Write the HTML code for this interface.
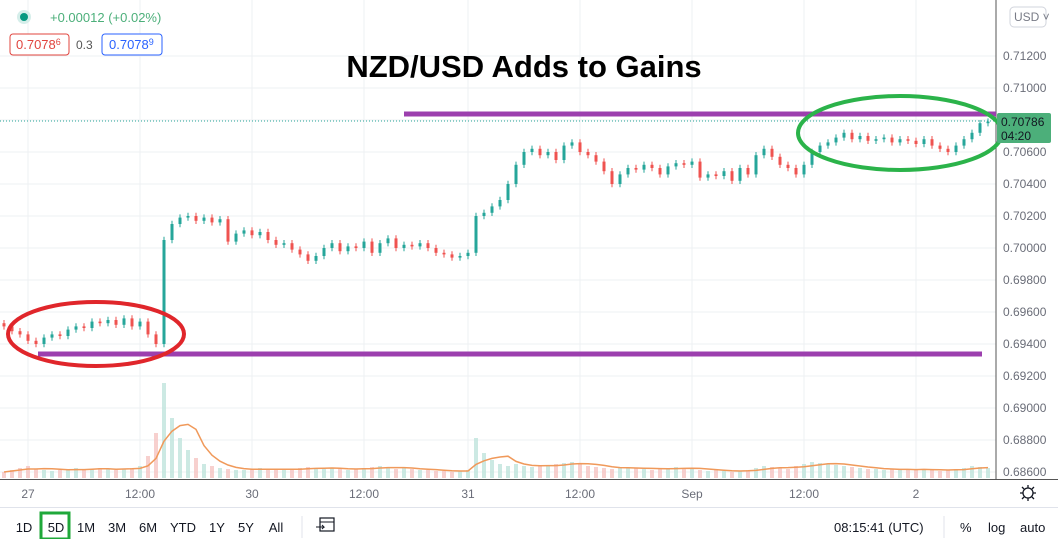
<!DOCTYPE html>
<html><head><meta charset="utf-8">
<style>
body{margin:0;width:1058px;height:539px;overflow:hidden;background:#fff;font-family:"Liberation Sans","DejaVu Sans",sans-serif;}
svg{position:absolute;left:0;top:0}
.t{font-size:12px;fill:#131722}
.b{font-size:13px;fill:#131722}
</style></head><body>
<svg id="c" width="1058" height="539">
<g id="grid"></g>
<g id="vol"></g>
<g id="candles"></g>
<line x1="996" y1="0" x2="996" y2="479" stroke="#555" stroke-width="1"/>
<line x1="0" y1="479.5" x2="1058" y2="479.5" stroke="#555" stroke-width="1"/>
<line x1="0" y1="507.5" x2="1058" y2="507.5" stroke="#e0e3eb"/>
<g id="yaxis"></g>
<g id="xaxis"></g>
<line x1="0" y1="121" x2="996" y2="121" stroke="#26a69a" stroke-dasharray="1,2"/>
<line x1="404" y1="114" x2="996" y2="114" stroke="#9c3fae" stroke-width="5"/>
<line x1="38" y1="354" x2="982" y2="354" stroke="#9c3fae" stroke-width="5"/>
<ellipse cx="96" cy="334" rx="88" ry="32" fill="none" stroke="#e0262b" stroke-width="4"/>
<ellipse cx="900" cy="133" rx="102" ry="37" fill="none" stroke="#2bb34a" stroke-width="4"/>
<text x="524" y="77" text-anchor="middle" font-size="31" font-weight="bold" fill="#000">NZD/USD Adds to Gains</text>
<rect x="997" y="113" width="54" height="30" rx="2" fill="#4caf7a"/>
<text x="1001" y="126" class="t" fill="#131722">0.70786</text>
<text x="1001" y="140" class="t">04:20</text>
<rect x="1010" y="7" width="36" height="20" rx="4" fill="#fff" stroke="#d1d4dc"/>
<text x="1014" y="21" font-size="12" fill="#787b86">USD ˅</text>
<circle cx="24" cy="17" r="7" fill="#d5eeea"/>
<circle cx="24" cy="17" r="4" fill="#089981"/>
<text x="50" y="22" font-size="13" fill="#4caf7a">+0.00012 (+0.02%)</text>
<rect x="10" y="34" width="59" height="21" rx="3" fill="#fff" stroke="#e0443e"/>
<text x="16" y="49" font-size="13" fill="#e0443e">0.7078<tspan font-size="9" dy="-4">6</tspan></text>
<text x="76" y="49" font-size="12" fill="#555">0.3</text>
<rect x="102" y="34" width="60" height="21" rx="3" fill="#fff" stroke="#2962ff"/>
<text x="109" y="49" font-size="13" fill="#2962ff">0.7078<tspan font-size="9" dy="-4">9</tspan></text>
<g><circle cx="1028" cy="493" r="5" fill="none" stroke="#131722" stroke-width="1.3"/><path d="M1028 485v3M1028 498v3M1020 493h3M1033 493h3M1022 487l2 2M1032 497l2 2M1034 487l-2 2M1024 497l-2 2" stroke="#131722" stroke-width="1.3"/></g>
<g id="tb"></g>
<rect x="41" y="513" width="28" height="26" fill="none" stroke="#1fa83a" stroke-width="3"/>
<line x1="302" y1="516" x2="302" y2="538" stroke="#e0e3eb"/>
<g><rect x="320" y="518" width="14" height="13" fill="none" stroke="#131722" stroke-width="1.2"/><line x1="320" y1="522" x2="334" y2="522" stroke="#131722"/><path d="M316 527h8l-2-2M324 527l-2 2" stroke="#131722" fill="none"/></g>
<text x="834" y="532" class="b">08:15:41 (UTC)</text>
<line x1="944" y1="516" x2="944" y2="538" stroke="#e0e3eb"/>
<text x="960" y="532" class="b">%</text>
<text x="988" y="532" class="b">log</text>
<text x="1020" y="532" class="b">auto</text>
</svg>
<script>
const closes=[.6951,.6948,.6946,.6942,.6940,.6944,.6946,.6945,.6949,.6951,.6950,.6954,.6953,.6955,.6952,.6956,.6951,.6954,.6946,.6940,
.7005,.7015,.7019,.7020,.7017,.7019,.7016,.7018,.7004,.7009,.7011,.7008,.7010,.7005,.7002,.7003,.6999,.6996,.6992,.6995,
.7000,.7003,.6998,.7001,.7000,.7004,.6997,.7003,.7006,.7000,.7002,.7001,.7003,.7000,.6997,.6996,.6994,.6995,.6997,.7020,
.7022,.7026,.7030,.7040,.7052,.7060,.7062,.7058,.7060,.7055,.7064,.7066,.7060,.7058,.7054,.7048,.7040,.7046,.7050,.7049,
.7052,.7050,.7046,.7051,.7053,.7052,.7054,.7044,.7046,.7045,.7048,.7042,.7050,.7046,.7058,.7062,.7057,.7052,.7050,.7046,
.7052,.7060,.7064,.7066,.7069,.7072,.7068,.7070,.7067,.7068,.7069,.7066,.7068,.7067,.7065,.7068,.7064,.7062,.7060,.7064,
.7068,.7072,.7078,.7079];
const volumes=[6,8,10,12,9,8,7,8,9,10,8,9,10,9,8,9,10,12,22,45,
95,60,40,28,20,14,12,10,9,8,8,9,10,9,8,8,9,10,11,10,
9,10,9,8,9,10,11,12,10,9,10,9,8,8,7,7,6,7,8,40,
25,18,14,12,14,12,11,12,13,14,15,16,14,12,11,10,9,10,11,10,
9,8,9,10,11,10,9,8,7,8,7,6,7,8,10,12,11,10,9,12,
14,16,15,14,13,12,11,10,9,9,8,9,8,9,8,9,8,7,8,9,
10,12,11,10];
const priceTicks=[0.712,0.710,0.708,0.706,0.704,0.702,0.700,0.698,0.696,0.694,0.692,0.690,0.688,0.686];
const timeLabels=["27","12:00","30","12:00","31","12:00","Sep","12:00","2"];
const timeIdx=[3,17,31,45,58,72,86,100,114];
const ranges=["1D","5D","1M","3M","6M","YTD","1Y","5Y","All"];
const NS="http://www.w3.org/2000/svg";
const y=v=>56+(0.712-v)/0.002*32;
const x=i=>4+8*i;
const vy=v=>478-v;
function mk(t,a,p){const e=document.createElementNS(NS,t);for(const k in a)e.setAttribute(k,a[k]);p.appendChild(e);return e;}
const grid=document.getElementById('grid'),ya=document.getElementById('yaxis'),xa=document.getElementById('xaxis');
priceTicks.forEach(v=>{
 const l=mk('line',{x1:0,x2:996,y1:y(v),y2:y(v),stroke:'#eef0f3'},grid);
 
 
 if(v===0.708)return;
 const t=mk('text',{x:1003,y:y(v)+4,'font-size':12,fill:'#6a6d78'},ya);t.textContent=v.toFixed(5);
 
 
});
timeIdx.forEach((ix,k)=>{
 const l=mk('line',{x1:x(ix),x2:x(ix),y1:0,y2:479,stroke:'#eef0f3'},grid);
 
 
 const t=mk('text',{x:x(ix),y:498,'font-size':12,fill:'#6a6d78','text-anchor':'middle'},xa);t.textContent=timeLabels[k];
 
 
});
const vg=document.getElementById('vol'),cg=document.getElementById('candles');
closes.forEach((c,i)=>{
 const o=i?closes[i-1]:c+0.0002;const up=c>=o;const col=up?'#26a69a':'#ef5350';
 const b=mk('rect',{x:x(i)-2,y:vy(volumes[i]),width:4,height:volumes[i],fill:up?'#bfe3dc':'#f5c4c2',opacity:0.8},vg);
 
 
 const hi=Math.max(o,c)+0.0002,lo=Math.min(o,c)-0.0002;
 const w=mk('line',{x1:x(i),x2:x(i),y1:y(hi),y2:y(lo),stroke:col,'stroke-width':1},cg);
 
 
 const r=mk('rect',{x:x(i)-1.5,y:y(Math.max(o,c)),width:3,height:Math.max(1,Math.abs(y(o)-y(c))),fill:col},cg);
 
 
});
let pts=[];volumes.forEach((v,i)=>{const s=volumes.slice(Math.max(0,i-4),i+1);pts.push(x(i)+','+vy(s.reduce((a,b)=>a+b,0)/s.length));});
const ma=mk('polyline',{points:pts.join(' '),fill:'none',stroke:'#f0995a','stroke-width':1.5},vg);


const tb=document.getElementById('tb');const rx=[24,56,86,117,148,183,217,246,276];
ranges.forEach((r,k)=>{const t=mk('text',{x:rx[k],y:532,'font-size':13,fill:'#131722','text-anchor':'middle'},tb);t.textContent=r;
 
 });
</script>
</body></html>
